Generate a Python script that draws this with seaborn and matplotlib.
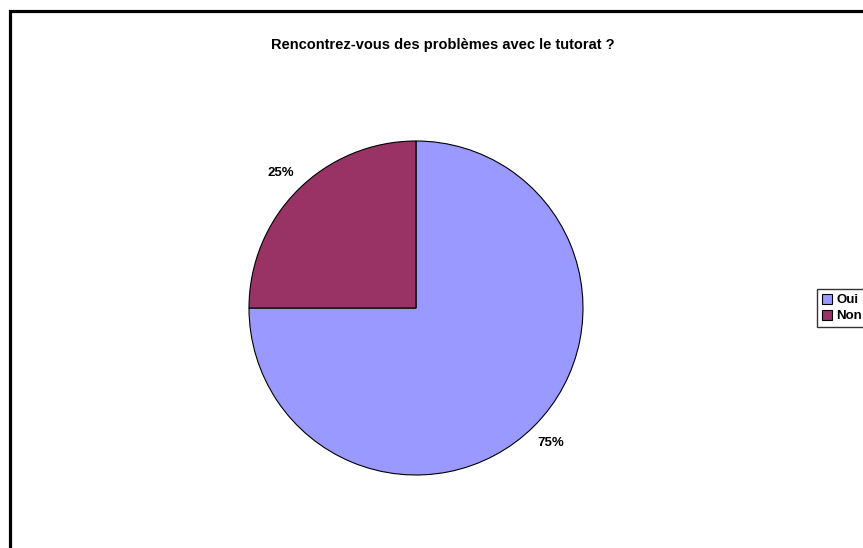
import matplotlib
matplotlib.use("Agg")
import matplotlib.pyplot as plt
import seaborn as sns
from matplotlib.patches import Rectangle

categories = ["Oui", "Non"]
values = [75, 25]
colors = ["#9999FF", "#993366"]
title = "Rencontrez-vous des problèmes avec le tutorat ?"

sns.set_style("white")
plt.rcParams["font.family"] = ["Liberation Sans", "DejaVu Sans"]
plt.rcParams["text.color"] = "black"

W, H = 863, 548
fig = plt.figure(figsize=(W / 100, H / 100), dpi=100)
fig.patch.set_facecolor("white")

cx, cy, r = 416, 308, 167
ax = fig.add_axes([(cx - r) / W, (H - cy - r) / H, 2 * r / W, 2 * r / H])
wedges, texts, autotexts = ax.pie(
    values, colors=colors, startangle=90, counterclock=False,
    autopct="%d%%", pctdistance=1.145, radius=1,
    wedgeprops=dict(edgecolor="black", linewidth=0.8),
    textprops=dict(fontsize=9.5, fontweight="bold", color="black"),
)
ax.set_xlim(-1, 1)
ax.set_ylim(-1, 1)
ax.set_aspect("equal")
ax.axis("off")

fig.text(443 / W, 1 - 44.5 / H, title, ha="center", va="center",
         fontsize=10.5, fontweight="bold", color="black")

leg = fig.legend(wedges, categories, loc="upper left",
                 bbox_to_anchor=(817 / W, 1 - 289 / H),
                 frameon=True, fancybox=False,
                 prop=dict(weight="bold", size=9.5),
                 handlelength=0.8, handleheight=0.8, handletextpad=0.3,
                 borderpad=0.35, labelspacing=0.25, borderaxespad=0)
for t in leg.get_texts():
    t.set_color("black")
leg.get_frame().set_edgecolor("black")
leg.get_frame().set_linewidth(1.0)

fig.patches.append(Rectangle((9.5 / W, -0.1), 2.0, 1 - 11.5 / H + 0.1,
                             transform=fig.transFigure, fill=False,
                             edgecolor="black", linewidth=2.3))

fig.savefig("out.png", dpi=100)
